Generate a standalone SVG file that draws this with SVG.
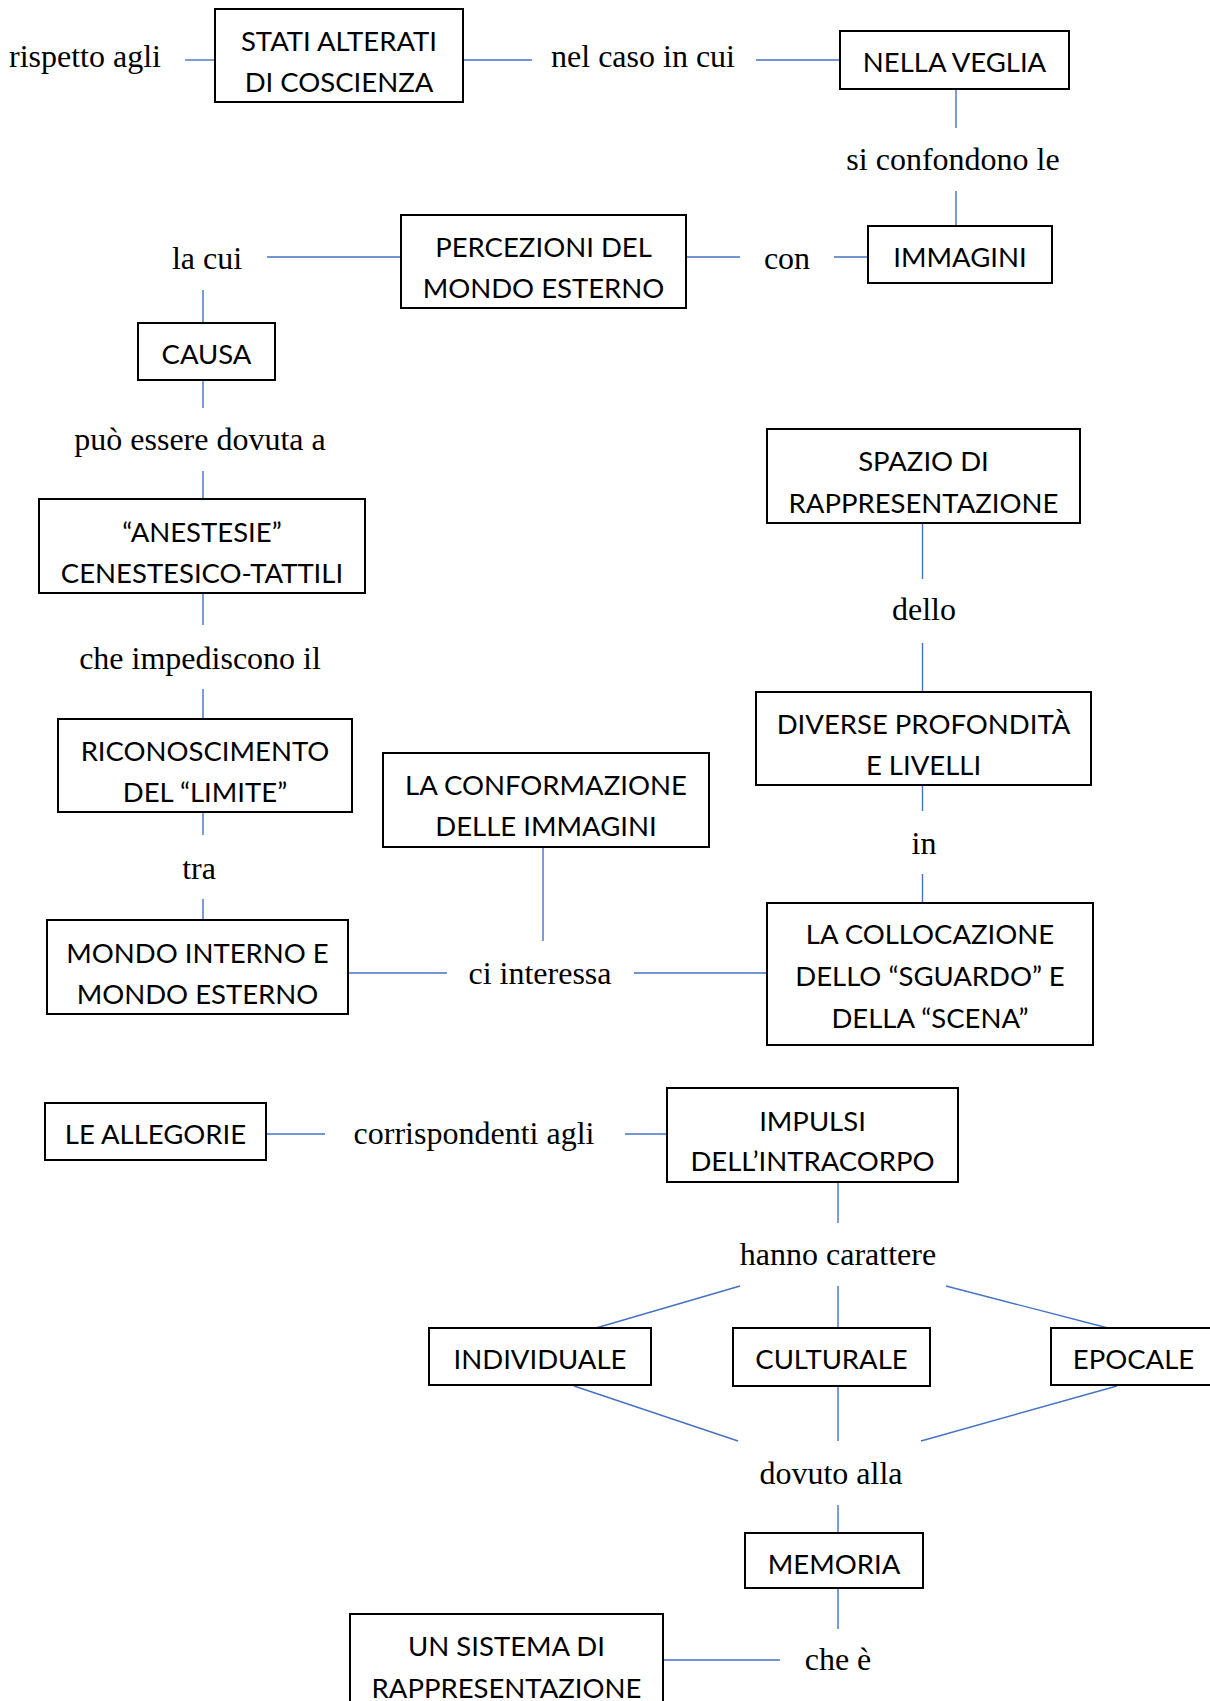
<svg xmlns="http://www.w3.org/2000/svg" width="1210" height="1701" viewBox="0 0 1210 1701">
  <style>
    .box { fill: #ffffff; stroke: #000000; stroke-width: 2; }
    .bt { font-family: Lato, "Liberation Sans", sans-serif; font-size: 27.5px; fill: #000000; text-anchor: middle; }
    .lbl { font-family: "Liberation Serif", serif; font-size: 32px; fill: #000000; text-anchor: middle; }
    .edge { stroke: #4472C4; stroke-width: 1.4; fill: none; }
  </style>
  <rect width="1210" height="1701" fill="#ffffff"/>

  <!-- connectors -->
  <g id="connectors" class="edge">
    <line x1="185" y1="60" x2="215" y2="60"/>
    <line x1="463" y1="60" x2="532" y2="60"/>
    <line x1="756" y1="60" x2="840" y2="60"/>
    <line x1="956" y1="89" x2="956" y2="128"/>
    <line x1="956" y1="191" x2="956" y2="226"/>
    <line x1="834" y1="257" x2="868" y2="257"/>
    <line x1="686" y1="257" x2="740" y2="257"/>
    <line x1="267" y1="257" x2="401" y2="257"/>
    <line x1="203" y1="290" x2="203" y2="323"/>
    <line x1="203" y1="380" x2="203" y2="408"/>
    <line x1="203" y1="471" x2="203" y2="499"/>
    <line x1="203" y1="593" x2="203" y2="625"/>
    <line x1="203" y1="689" x2="203" y2="719"/>
    <line x1="203" y1="812" x2="203" y2="835"/>
    <line x1="203" y1="899" x2="203" y2="920"/>
    <line x1="348" y1="973" x2="447" y2="973"/>
    <line x1="543" y1="847" x2="543" y2="941"/>
    <line x1="634" y1="973" x2="767" y2="973"/>
    <line x1="922.5" y1="523" x2="922.5" y2="579"/>
    <line x1="922.5" y1="643" x2="922.5" y2="692"/>
    <line x1="922.5" y1="785" x2="922.5" y2="811"/>
    <line x1="922.5" y1="874" x2="922.5" y2="903"/>
    <line x1="266" y1="1134" x2="325" y2="1134"/>
    <line x1="625" y1="1134" x2="667" y2="1134"/>
    <line x1="838" y1="1182" x2="838" y2="1223"/>
    <line x1="740" y1="1286" x2="596" y2="1328"/>
    <line x1="838" y1="1286" x2="838" y2="1328"/>
    <line x1="946" y1="1286" x2="1108" y2="1328"/>
    <line x1="574" y1="1386" x2="738" y2="1441"/>
    <line x1="838" y1="1386" x2="838" y2="1441"/>
    <line x1="1117" y1="1386" x2="921" y2="1441"/>
    <line x1="838" y1="1505" x2="838" y2="1533"/>
    <line x1="838" y1="1588" x2="838" y2="1629"/>
    <line x1="663" y1="1660" x2="780" y2="1660"/>
  </g>

  <!-- linking phrases -->
  <g id="labels" class="lbl">
    <text x="85" y="67">rispetto agli</text>
    <text x="643" y="67">nel caso in cui</text>
    <text x="953" y="170">si confondono le</text>
    <text x="787" y="269">con</text>
    <text x="207" y="269">la cui</text>
    <text x="200" y="450">può essere dovuta a</text>
    <text x="200" y="669">che impediscono il</text>
    <text x="199" y="879">tra</text>
    <text x="540" y="984">ci interessa</text>
    <text x="924" y="620">dello</text>
    <text x="924" y="854">in</text>
    <text x="474" y="1144">corrispondenti agli</text>
    <text x="838" y="1265">hanno carattere</text>
    <text x="831" y="1484">dovuto alla</text>
    <text x="838" y="1670">che è</text>
  </g>

  <!-- concepts -->
  <g id="n-stati">
    <rect class="box" x="215" y="9" width="248" height="93"/>
    <text class="bt" x="339" y="51">STATI ALTERATI</text>
    <text class="bt" x="339" y="92">DI COSCIENZA</text>
  </g>
  <g id="n-veglia">
    <rect class="box" x="840" y="31" width="229" height="58"/>
    <text class="bt" x="954.5" y="72">NELLA VEGLIA</text>
  </g>
  <g id="n-immagini">
    <rect class="box" x="868" y="226" width="184" height="57"/>
    <text class="bt" x="960" y="267">IMMAGINI</text>
  </g>
  <g id="n-percezioni">
    <rect class="box" x="401" y="215" width="285" height="93"/>
    <text class="bt" x="543.5" y="257">PERCEZIONI DEL</text>
    <text class="bt" x="543.5" y="298">MONDO ESTERNO</text>
  </g>
  <g id="n-causa">
    <rect class="box" x="138" y="323" width="137" height="57"/>
    <text class="bt" x="206.5" y="364">CAUSA</text>
  </g>
  <g id="n-anestesie">
    <rect class="box" x="39" y="499" width="326" height="94"/>
    <text class="bt" x="202" y="542">“ANESTESIE”</text>
    <text class="bt" x="202" y="583">CENESTESICO-TATTILI</text>
  </g>
  <g id="n-riconoscimento">
    <rect class="box" x="58" y="719" width="294" height="93"/>
    <text class="bt" x="205" y="761">RICONOSCIMENTO</text>
    <text class="bt" x="205" y="802">DEL “LIMITE”</text>
  </g>
  <g id="n-mondo">
    <rect class="box" x="47" y="920" width="301" height="94"/>
    <text class="bt" x="197.5" y="963">MONDO INTERNO E</text>
    <text class="bt" x="197.5" y="1004">MONDO ESTERNO</text>
  </g>
  <g id="n-conformazione">
    <rect class="box" x="383" y="753" width="326" height="94"/>
    <text class="bt" x="546" y="795">LA CONFORMAZIONE</text>
    <text class="bt" x="546" y="836">DELLE IMMAGINI</text>
  </g>
  <g id="n-spazio">
    <rect class="box" x="767" y="429" width="313" height="94"/>
    <text class="bt" x="923.5" y="471">SPAZIO DI</text>
    <text class="bt" x="923.5" y="513">RAPPRESENTAZIONE</text>
  </g>
  <g id="n-profondita">
    <rect class="box" x="756" y="692" width="335" height="93"/>
    <text class="bt" x="923.5" y="734">DIVERSE PROFONDITÀ</text>
    <text class="bt" x="923.5" y="775">E LIVELLI</text>
  </g>
  <g id="n-collocazione">
    <rect class="box" x="767" y="903" width="326" height="142"/>
    <text class="bt" x="930" y="944">LA COLLOCAZIONE</text>
    <text class="bt" x="930" y="986">DELLO “SGUARDO” E</text>
    <text class="bt" x="930" y="1028">DELLA “SCENA”</text>
  </g>
  <g id="n-allegorie">
    <rect class="box" x="45" y="1103" width="221" height="57"/>
    <text class="bt" x="155.5" y="1144">LE ALLEGORIE</text>
  </g>
  <g id="n-impulsi">
    <rect class="box" x="667" y="1088" width="291" height="94"/>
    <text class="bt" x="812.5" y="1131">IMPULSI</text>
    <text class="bt" x="812.5" y="1171">DELL’INTRACORPO</text>
  </g>
  <g id="n-individuale">
    <rect class="box" x="429" y="1328" width="222" height="57"/>
    <text class="bt" x="540" y="1369">INDIVIDUALE</text>
  </g>
  <g id="n-culturale">
    <rect class="box" x="733" y="1328" width="197" height="58"/>
    <text class="bt" x="831.5" y="1369">CULTURALE</text>
  </g>
  <g id="n-epocale">
    <rect class="box" x="1051" y="1328" width="165" height="57"/>
    <text class="bt" x="1133.5" y="1369">EPOCALE</text>
  </g>
  <g id="n-memoria">
    <rect class="box" x="745" y="1533" width="178" height="55"/>
    <text class="bt" x="834" y="1574">MEMORIA</text>
  </g>
  <g id="n-sistema">
    <rect class="box" x="350" y="1614" width="313" height="94"/>
    <text class="bt" x="506.5" y="1656">UN SISTEMA DI</text>
    <text class="bt" x="506.5" y="1698">RAPPRESENTAZIONE</text>
  </g>
</svg>
